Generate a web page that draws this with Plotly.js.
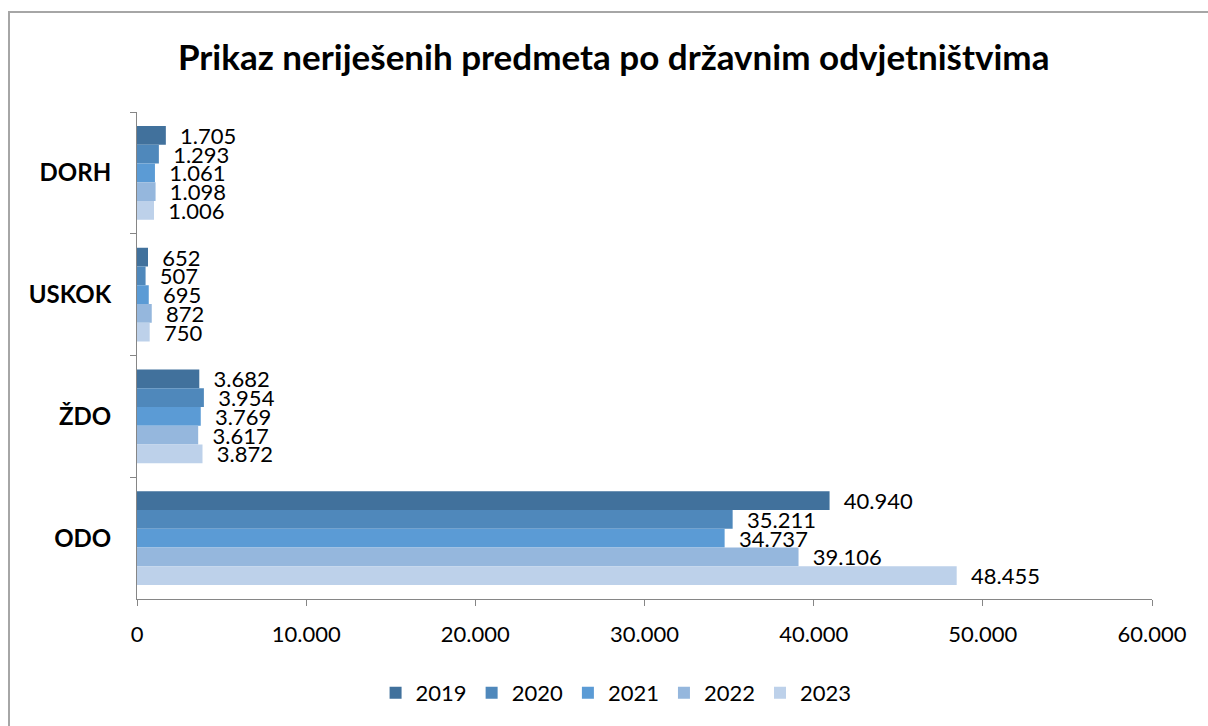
<!DOCTYPE html>
<html>
<head>
<meta charset="utf-8">
<script src="https://cdn.plot.ly/plotly-3.0.1.min.js"></script>
<style>
  body { margin: 0; background: #fff; }
  #chart { width: 1208px; height: 726px; }
  #frame { position: absolute; left: 8px; top: 11px; right: 0; bottom: 0;
           border-left: 2px solid #A6A6A6; border-top: 2px solid #A6A6A6; pointer-events: none; }
</style>
</head>
<body>
<div id="chart"></div>
<div id="frame"></div>
<script>
// odvjetnistva, odozgo prema dolje
var categories = ["DORH", "USKOK", "ŽDO", "ODO"];
var years = ["2019", "2020", "2021", "2022", "2023"];

var v2019 = [1705, 652, 3682, 40940];
var v2020 = [1293, 507, 3954, 35211];
var v2021 = [1061, 695, 3769, 34737];
var v2022 = [1098, 872, 3617, 39106];
var v2023 = [1006, 750, 3872, 48455];

var values = [v2019, v2020, v2021, v2022, v2023];
var colors = ["#41719C", "#4F88BB", "#5B9BD5", "#95B7DD", "#BDD1EA"];

var traces = [];
for (var i = 0; i < years.length; i++) {
  traces.push({
    type: "bar",
    orientation: "h",
    name: years[i],
    y: categories,
    x: values[i],
    marker: {color: colors[i]},
    texttemplate: "\u00a0\u00a0%{x:,}",
    textposition: "outside",
    constraintext: "none",
    cliponaxis: false,
    textfont: {family: "Lato, Open Sans, sans-serif", size: 22, color: "#000"},
    hoverinfo: "x+name"
  });
}

var layout = {
  width: 1208,
  height: 726,
  separators: ",.",
  paper_bgcolor: "#fff",
  plot_bgcolor: "#fff",
  margin: {l: 137, r: 56, t: 112, b: 118},
  title: {
    text: "<b>Prikaz neriješenih predmeta po državnim odvjetništvima</b>",
    font: {family: "Lato, Open Sans, sans-serif", size: 35, color: "#000"},
    x: 0.508, xanchor: "center", y: 0.92, yanchor: "middle"
  },
  barmode: "group",
  bargap: 0.23,
  bargroupgap: 0,
  xaxis: {
    range: [0, 60000],
    dtick: 10000,
    tickformat: ",d",
    showgrid: false,
    zeroline: false,
    showline: true,
    linecolor: "#868686",
    linewidth: 1,
    ticks: "outside",
    ticklen: 6,
    tickcolor: "#868686",
    ticklabelstandoff: 10,
    tickfont: {family: "Lato, Open Sans, sans-serif", size: 22, color: "#000"}
  },
  yaxis: {
    autorange: "reversed",
    showgrid: false,
    showline: true,
    linecolor: "#868686",
    linewidth: 1,
    ticks: "outside",
    tickson: "boundaries",
    ticklen: 6,
    tickcolor: "#868686",
    ticklabelstandoff: 20,
    tickfont: {family: "Lato, Open Sans, sans-serif", size: 24, color: "#000", weight: "bold"}
  },
  legend: {
    orientation: "h",
    x: 0.472, xanchor: "center",
    y: -0.15, yanchor: "top",
    font: {family: "Lato, Open Sans, sans-serif", size: 22, color: "#000"},
    itemwidth: 30
  },
  showlegend: true
};

Plotly.newPlot("chart", traces, layout, {displayModeBar: false});
</script>
</body>
</html>
